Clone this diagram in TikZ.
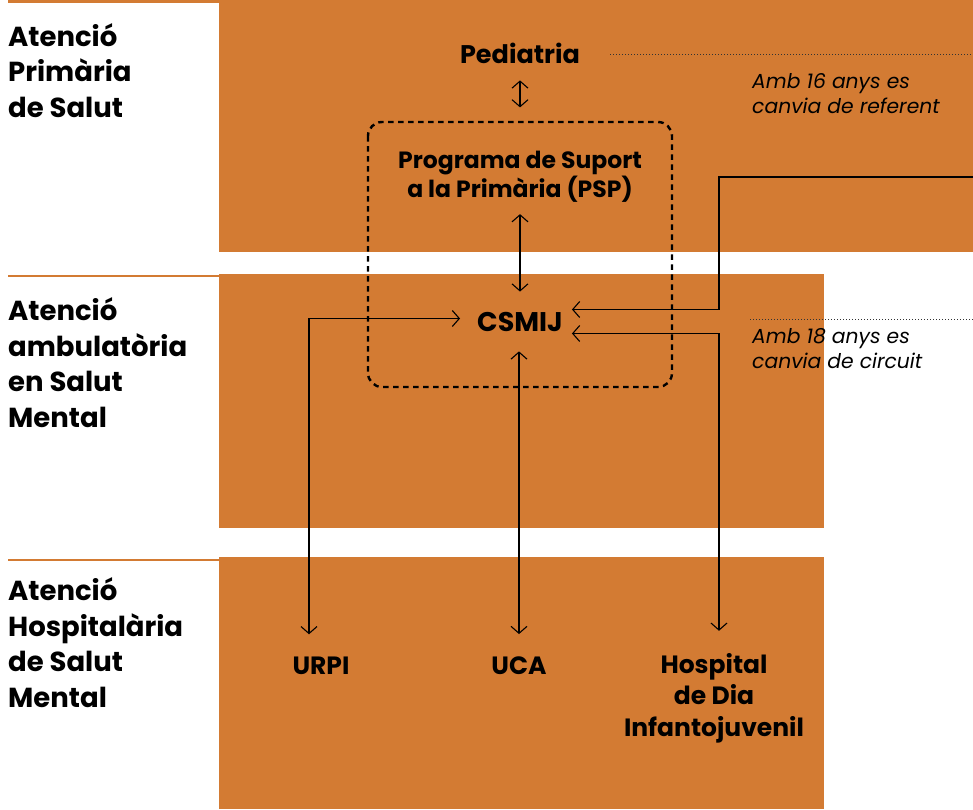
\documentclass[tikz,border=0pt]{standalone}
\usepackage{fontspec}
\setmainfont{Poppins}
\usepackage{xcolor}
\usetikzlibrary{positioning}
\usetikzlibrary{arrows.meta, calc}

\definecolor{taronja}{HTML}{D37B33}

\tikzset{
  rule/.style={draw=taronja, line width=2.5pt},
  level/.style={anchor=base west, align=left, inner sep=0pt,
    font=\fontsize{27.5}{35.5}\selectfont\bfseries},
  unit/.style={anchor=base, align=center, inner sep=0pt,
    font=\fontsize{25}{31.5}\selectfont\bfseries},
  note/.style={anchor=base west, align=left, inner sep=0pt,
    font=\fontsize{20.3}{24.5}\selectfont\itshape},
  link/.style={line width=1.1pt,
    {Straight Barb[length=7pt,width=16pt]}-{Straight Barb[length=7pt,width=16pt]}},
  hint/.style={line width=1pt, dash pattern=on 1pt off 2pt, black!80},
  psbox/.style={line width=2.4pt, dash pattern=on 5.5pt off 4.5pt, rounded corners=14pt}
}

\begin{document}
\begin{tikzpicture}[x=1pt, y=-1pt]
        \useasboundingbox (0,0) rectangle (973,809);
        % franges de nivell
        \begin{scope}
            \fill[taronja] (219,0) rectangle (973,252);
            \fill[taronja] (219,274) rectangle (824,528);
            \fill[taronja] (219,557) rectangle (824,809);
            \draw[rule] (8,1.5) -- (219,1.5);
            \draw[rule] (8,276) -- (219,276);
            \draw[rule] (8,560) -- (219,560);
            \node[level] (primaria) at (8,117) {Atenció\\Primària\\de Salut};
            \node[level] (ambulat) at (8,427) {Atenció\\ambulatòria\\en Salut\\Mental};
            \node[level] (hospit) at (8,707) {Atenció\\Hospitalària\\de Salut\\Mental};
        \end{scope}
        % dispositius
        \begin{scope}
            \node[unit, font=\fontsize{25.5}{31.5}\selectfont\bfseries] (ped) at (520,63) {Pediatria};
            \node[unit, font=\fontsize{23.5}{29}\selectfont\bfseries] (psp) at (520,197)
                {Programa de Suport\\a la Primària (PSP)};
            \node[unit, font=\fontsize{27}{31.5}\selectfont\bfseries] (csmij) at (520,331) {CSMIJ};
            \node[unit] (urpi) at (321,674) {URPI};
            \node[unit] (uca) at (519,674) {UCA};
            \node[unit] (hdij) at (714,736) {Hospital\\de Dia\\Infantojuvenil};
            \draw[psbox] (368,122) rectangle (672,387);
        \end{scope}
        % notes d'edat
        \begin{scope}
            \coordinate (lim16) at (973,54);
            \coordinate (lim18) at (973,319);
            \draw[hint] ([xshift=30pt]ped.east |- lim16) -- (lim16);
            \node[note] (edat16) at (752,113) {Amb 16 anys es\\canvia de referent};
            \draw[hint] (750,319) -- (lim18);
            \node[note] (edat18) at (752,368) {Amb 18 anys es\\canvia de circuit};
        \end{scope}
        % connexions
        \coordinate (adult) at (973,177);
        \coordinate (gir) at (719,177);
        \draw[link, shorten <=17pt, shorten >=43pt] (ped.south) -- (ped.south |- psp.north);
        \draw[link, shorten <=12pt, shorten >=20pt] (psp.south) -- (psp.south |- csmij.north);
        \draw[link, shorten <=22pt, shorten >=17pt] ([xshift=-12pt]urpi.north) |- ([yshift=3pt]csmij.west);
        \draw[link, shorten <=22pt, shorten >=20pt] (uca.north) -- (uca.north |- csmij.south);
        \draw[link, shorten <=22pt, shorten >=9pt] ([xshift=5pt]hdij.north) |- ([yshift=-12pt]csmij.east);
        \draw[-{Straight Barb[length=7pt,width=16pt]}, line width=1.1pt, shorten >=9pt]
            (adult) -- (gir) |- ([yshift=12pt]csmij.east);
    \end{tikzpicture}
\end{document}
